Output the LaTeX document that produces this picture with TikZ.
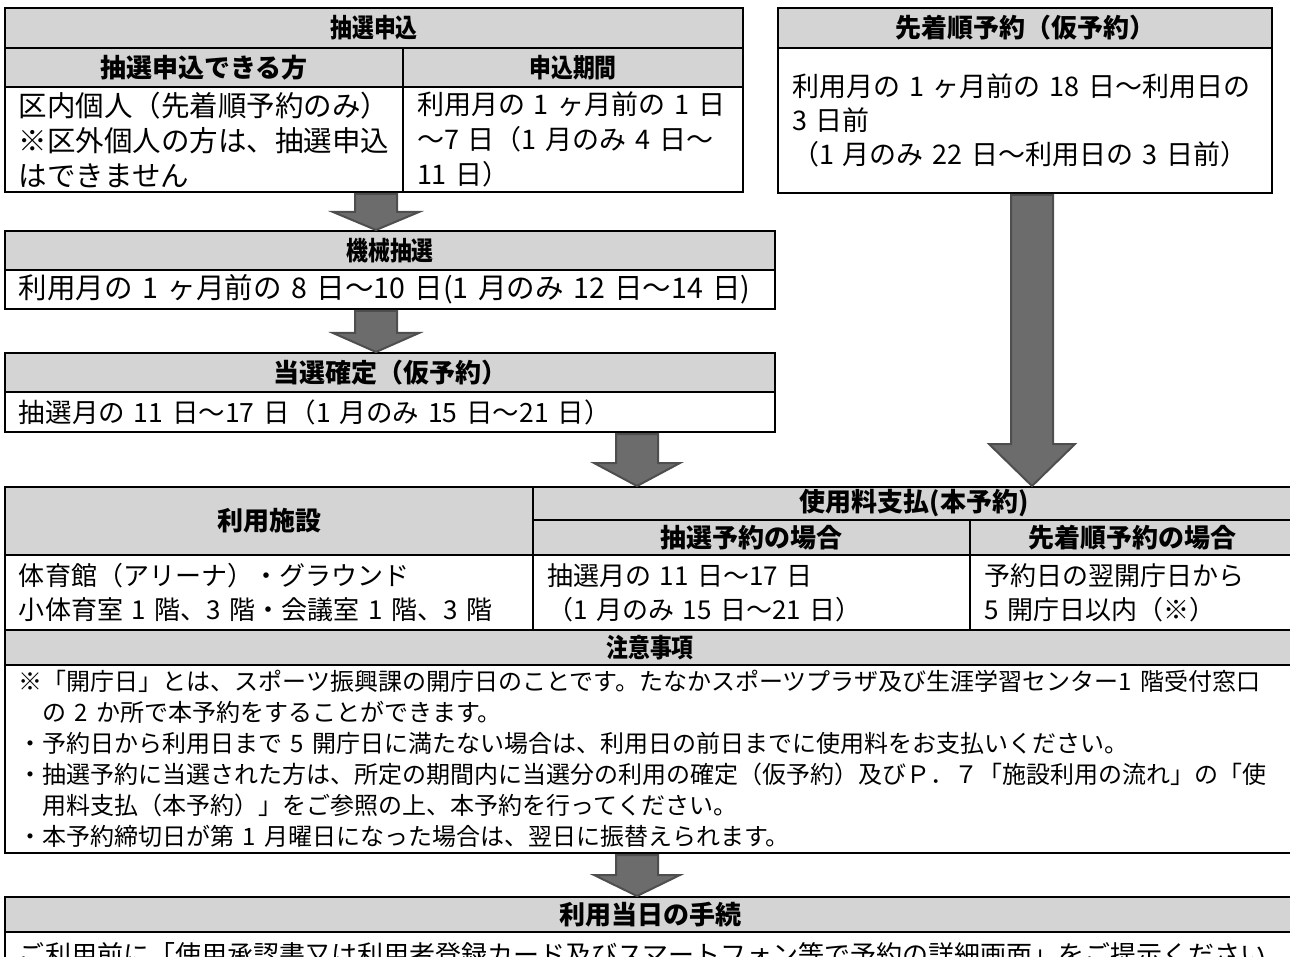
\documentclass[tikz,border=0pt]{standalone}
\usepackage{fontspec}
\setmainfont{Noto Sans CJK JP}
\newfontfamily\narrowjp{Noto Sans CJK JP}[FakeStretch=0.84]
\usepackage{xcolor}
\usepackage{tikz}
\usetikzlibrary{calc,positioning}

\definecolor{hdrgray}{RGB}{212,212,212}
\definecolor{arrowgray}{RGB}{108,108,108}
\definecolor{arrowedge}{RGB}{78,78,78}

\newcommand{\hdrfont}{\fontsize{26}{32}\selectfont\bfseries}
\newcommand{\cellfont}{\fontsize{26}{34}\selectfont}
\newcommand{\notefont}{\fontsize{24}{31}\selectfont}

% block arrow: centre x, upper node anchor, lower node anchor, head length
\newcommand{\flowarrow}[4]{%
  \filldraw[arrowbody] let \p1=(#2), \p2=(#3) in
    (#1pt-21pt,\y1-2pt) -- (#1pt+21pt,\y1-2pt) -- (#1pt+21pt,\y2+#4pt)
    -- (#1pt+43pt,\y2+#4pt) -- (#1pt,\y2+1pt) -- (#1pt-43pt,\y2+#4pt)
    -- (#1pt-21pt,\y2+#4pt) -- cycle;}

\begin{document}
\begin{tikzpicture}[x=1pt, y=-1pt,
  box/.style={draw, line width=2.5pt, outer sep=0pt, inner sep=0pt, anchor=north west},
  hdr/.style={box, fill=hdrgray, font=\hdrfont},
  narrowhdr/.style={hdr, font=\hdrfont\narrowjp},
  cell/.style={box, fill=white, font=\cellfont, align=left, inner xsep=14pt},
  arrowbody/.style={fill=arrowgray, draw=arrowedge, line width=2pt}]
	\useasboundingbox (0,0) rectangle (1290,957);

	\node[narrowhdr, minimum width=738pt, minimum height=40pt] (apply) at (5,8) {抽選申込};
	\node[hdr, minimum width=398pt, minimum height=39pt] (applywho) at (apply.south west) {抽選申込できる方};
	\node[narrowhdr, minimum width=340pt, minimum height=39pt] (applywhen) at (applywho.north east) {申込期間};
	\node[cell, font=\fontsize{28.5}{35}\selectfont, text width=370pt, minimum height=105pt] (whocell) at (applywho.south west)
		{区内個人（先着順予約のみ）\\※区外個人の方は、抽選申込\\はできません};
	\node[cell, font=\fontsize{27}{35}\selectfont, text width=312pt, minimum height=105pt] (whencell) at (applywhen.south west)
		{利用月の 1 ヶ月前の 1 日\\～7 日（1 月のみ 4 日～\\11 日）};

	\node[hdr, minimum width=494pt, minimum height=40pt] (first) at (778,8) {先着順予約（仮予約）};
	\node[cell, font=\fontsize{27}{34}\selectfont, text width=466pt, minimum height=145pt] (firstcell) at (first.south west)
		{利用月の 1 ヶ月前の 18 日～利用日の\\3 日前\\（1 月のみ 22 日～利用日の 3 日前）};

	\node[narrowhdr, minimum width=770pt, minimum height=39pt] (lot) at (5,231) {機械抽選};
	\node[cell, font=\fontsize{28.5}{34}\selectfont, text width=742pt, minimum height=39pt] (lotcell) at (lot.south west)
		{利用月の 1 ヶ月前の 8 日～10 日(1 月のみ 12 日～14 日)};

	\node[hdr, minimum width=770pt, minimum height=39pt] (win) at (5,353) {当選確定（仮予約）};
	\node[cell, font=\fontsize{26.5}{34}\selectfont, text width=742pt, minimum height=40pt] (wincell) at (win.south west)
		{抽選月の 11 日～17 日（1 月のみ 15 日～21 日）};

	\node[hdr, minimum width=528pt, minimum height=68pt] (fac) at (5,487) {利用施設};
	\node[hdr, minimum width=762pt, minimum height=33pt] (fee) at (fac.north east) {使用料支払(本予約)};
	\node[hdr, minimum width=437pt, minimum height=35pt] (feelot) at (fee.south west) {抽選予約の場合};
	\node[hdr, minimum width=325pt, minimum height=35pt] (feefirst) at (feelot.north east) {先着順予約の場合};
	\node[cell, text width=500pt, minimum height=75pt] (faccell) at (fac.south west)
		{体育館（アリーナ）・グラウンド\\小体育室 1 階、3 階・会議室 1 階、3 階};
	\node[cell, text width=409pt, minimum height=75pt] (lotfee) at (feelot.south west)
		{抽選月の 11 日～17 日\\（1 月のみ 15 日～21 日）};
	\node[cell, text width=297pt, minimum height=75pt] (firstfee) at (feefirst.south west)
		{予約日の翌開庁日から\\5 開庁日以内（※）};
	\node[narrowhdr, minimum width=1290pt, minimum height=35pt] (notehdr) at (faccell.south west) {注意事項};
	\node[cell, font=\notefont, text width=1262pt, minimum height=188pt] (notes) at (notehdr.south west)
		{※「開庁日」とは、スポーツ振興課の開庁日のことです。たなかスポーツプラザ及び生涯学習センター1 階受付窓口\\
		\hspace*{1em}の 2 か所で本予約をすることができます。\\
		・予約日から利用日まで 5 開庁日に満たない場合は、利用日の前日までに使用料をお支払いください。\\
		・抽選予約に当選された方は、所定の期間内に当選分の利用の確定（仮予約）及びＰ．７「施設利用の流れ」の「使\\
		\hspace*{1em}用料支払（本予約）」をご参照の上、本予約を行ってください。\\
		・本予約締切日が第 1 月曜日になった場合は、翌日に振替えられます。};

	\node[hdr, minimum width=1290pt, minimum height=35pt] (today) at (5,897) {利用当日の手続};
	\node[cell, text width=1262pt, minimum height=45pt] (todaycell) at (today.south west)
		{ご利用前に「使用承認書又は利用者登録カード及びスマートフォン等で予約の詳細画面」をご提示ください。};

	\flowarrow{376}{whocell.south}{lot.north}{19}
	\flowarrow{376}{lotcell.south}{win.north}{20}
	\flowarrow{637}{wincell.south}{fee.north}{24}
	\flowarrow{1032}{firstcell.south}{fee.north}{43}
	\flowarrow{637}{notes.south}{today.north}{22}
\end{tikzpicture}
\end{document}
